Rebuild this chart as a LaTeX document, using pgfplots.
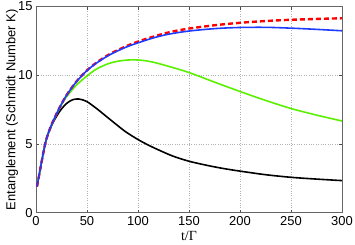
\documentclass[border=0pt]{standalone}
\usepackage{fontspec}
\setmainfont{Liberation Sans}
\newfontfamily\seriffont{Liberation Serif}
\usepackage{pgfplots}
\pgfplotsset{compat=1.18}
\definecolor{myblue}{RGB}{30,60,255}
\definecolor{mygreen}{RGB}{90,240,0}
\begin{document}
\begin{tikzpicture}
\begin{axis}[
  scale only axis,
  width=306bp, height=206bp,
  xmin=0, xmax=300, ymin=0, ymax=15,
  xtick={0,50,...,300}, ytick={0,5,10,15},
  /pgf/number format/assume math mode=true,
  ticklabel style={font=\fontsize{13}{15}\selectfont},
  label style={font=\fontsize{13}{15}\selectfont},
  tick align=inside, major tick length=3bp,
  tick style={black!70, line width=0.5pt},
  axis line style={black!60, line width=0.6pt},
  grid=major,
  major grid style={dotted, gray!60, line width=0.5pt},
  xlabel={{\seriffont\fontsize{14}{16}\selectfont t/Γ}},
  ylabel={Entanglement (Schmidt Number K)},
  xlabel style={at={(axis description cs:0.5,-0.113)}, anchor=center},
  ylabel style={at={(axis description cs:-0.078,0.5)}, anchor=center},
  every axis plot/.append style={line width=1.6pt},
]
% black
\addplot[black, smooth] coordinates {
(1,1.9) (3,2.7) (5.5,3.7) (9,5.0) (12,5.75) (17,6.6) (23.5,7.4) (30,7.95)
(36,8.22) (42,8.27) (49.5,8.1) (59,7.6) (69,7.0) (79,6.4) (88,5.88) (100,5.32)
(110,4.92) (120,4.57) (134,4.12) (150,3.74) (167,3.45) (183,3.22) (200,3.02)
(225,2.76) (250,2.57) (275,2.44) (300,2.33)};
% green
\addplot[mygreen, smooth] coordinates {
(1,1.9) (3,2.7) (5.5,3.7) (9,5.0) (12,5.78) (17,6.68) (23.5,7.65) (30,8.44)
(39.7,9.29) (50,9.95) (59,10.44) (70,10.82) (80,11.02) (90,11.11) (97,11.12)
(105,11.08) (115,10.95) (130,10.65) (150,10.2) (175,9.5) (200,8.82) (225,8.17)
(250,7.58) (275,7.1) (300,6.67)};
% red dashed
\addplot[red, smooth, line width=2.4pt, dash pattern=on 5bp off 3bp] coordinates {
(1,1.9) (3,2.7) (5.5,3.7) (9,5.0) (12,5.78) (17,6.7) (23.5,7.7) (30,8.56)
(39.7,9.55) (50,10.36) (59,10.9) (72,11.53) (88,12.1) (100,12.45) (111,12.72)
(130,13.12) (150,13.4) (176,13.65) (200,13.82) (225,13.95) (250,14.04)
(275,14.1) (300,14.15)};
% blue
\addplot[myblue, smooth] coordinates {
(1,1.9) (3,2.7) (5.5,3.7) (9,5.0) (12,5.78) (17,6.7) (23.5,7.7) (30,8.55)
(39.7,9.54) (50,10.34) (59,10.87) (72,11.48) (88,12.04) (100,12.36) (115,12.72)
(130,12.99) (150,13.22) (176,13.4) (200,13.48) (226,13.49) (250,13.43)
(273,13.35) (300,13.24)};
\end{axis}
\pgfresetboundingbox
\path ([xshift=-36bp,yshift=-32.3bp]current axis.south west) rectangle ([xshift=13bp,yshift=6.6bp]current axis.north east);
\end{tikzpicture}
\end{document}
